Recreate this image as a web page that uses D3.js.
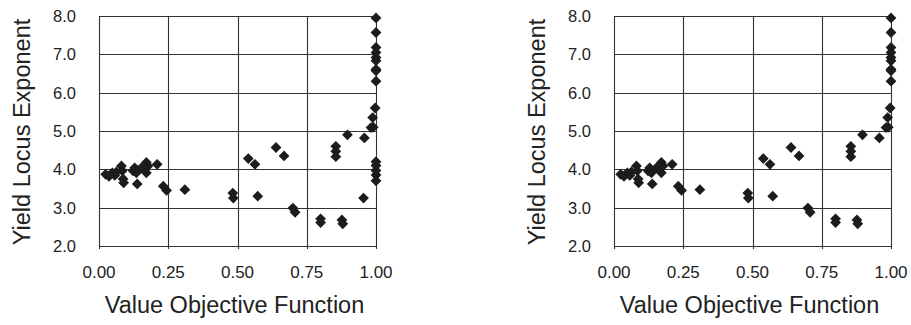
<!DOCTYPE html>
<html>
<head>
<meta charset="utf-8">
<script src="https://cdn.jsdelivr.net/npm/d3@7"></script>
<style>
  html, body { margin: 0; padding: 0; background: #fff; }
  svg { display: block; }
  text { font-family: "Liberation Sans", Arial, sans-serif; fill: #222; }
</style>
</head>
<body>
<svg id="chart" width="911" height="325"></svg>
<script>
// Points shared by both panels
const xCommon = [0.024, 0.036, 0.048, 0.057, 0.063, 0.081, 0.084, 0.087, 0.089, 0.123,
                 0.129, 0.135, 0.138, 0.153, 0.171, 0.171, 0.177, 0.210, 0.232, 0.244,
                 0.310, 0.483, 0.485, 0.539, 0.563, 0.573, 0.639, 0.668, 0.700, 0.708,
                 0.800, 0.800, 0.877, 0.880, 0.855, 0.855, 0.855, 0.897, 0.958, 0.982,
                 0.990, 0.988, 0.997, 1.000, 1.000, 1.000, 1.000, 1.000, 1.000, 1.000,
                 1.000, 1.000];
const yCommon = [3.87, 3.82, 3.91, 3.84, 3.93, 4.09, 3.96, 3.75, 3.65, 3.96,
                 4.04, 3.91, 3.62, 4.04, 4.18, 3.91, 4.09, 4.13, 3.56, 3.45,
                 3.47, 3.38, 3.25, 4.28, 4.13, 3.30, 4.57, 4.35, 2.99, 2.88,
                 2.71, 2.61, 2.68, 2.58, 4.60, 4.47, 4.33, 4.90, 4.82, 5.09,
                 5.10, 5.35, 5.60, 7.95, 7.57, 7.18, 7.05, 6.92, 6.83, 6.61,
                 6.57, 6.30];
// Additional points present only in the first panel
const xExtra = [0.955, 1.000, 1.000, 1.000, 1.000, 1.000];
const yExtra = [3.25, 4.20, 4.10, 3.97, 3.85, 3.70];

const xTicks = [0, 0.25, 0.5, 0.75, 1.0];
const yTicks = [2, 3, 4, 5, 6, 7, 8];
const xTitle = "Value Objective Function";
const yTitle = "Yield Locus Exponent";

const panels = [
  { x: xCommon.concat(xExtra), y: yCommon.concat(yExtra), left: 99 },
  { x: xCommon, y: yCommon, left: 614 }
];

const svg = d3.select("#chart");
const plotTop = 16, plotH = 230, plotW = 277;
const diamond = "M0,-5.4L5.4,0L0,5.4L-5.4,0Z";

panels.forEach(p => {
  const g = svg.append("g").attr("transform", `translate(${p.left},${plotTop})`);
  const x = d3.scaleLinear().domain([0, 1]).range([0, plotW]);
  const y = d3.scaleLinear().domain([2, 8]).range([plotH, 0]);

  // grid
  g.append("g").selectAll("line").data(yTicks).join("line")
    .attr("x1", 0).attr("x2", plotW)
    .attr("y1", d => Math.round(y(d)) + 0.5).attr("y2", d => Math.round(y(d)) + 0.5)
    .attr("stroke", "#333").attr("stroke-width", 1.1);
  g.append("g").selectAll("line").data(xTicks).join("line")
    .attr("y1", 0).attr("y2", plotH + 3)
    .attr("x1", d => Math.round(x(d)) + 0.5).attr("x2", d => Math.round(x(d)) + 0.5)
    .attr("stroke", "#333").attr("stroke-width", 1.1);

  // y tick labels
  g.append("g").selectAll("text").data(yTicks).join("text")
    .attr("x", -23).attr("y", d => y(d)).attr("dy", "0.36em")
    .attr("text-anchor", "end").style("font-size", "16.5px")
    .text(d => d3.format(".1f")(d));

  // x tick labels
  g.append("g").selectAll("text").data(xTicks).join("text")
    .attr("x", d => x(d)).attr("y", plotH + 32)
    .attr("text-anchor", "middle").style("font-size", "17px")
    .text(d => d3.format(".2f")(d));

  // axis titles
  g.append("text").attr("x", plotW / 2 - 3).attr("y", plotH + 67)
    .attr("text-anchor", "middle").style("font-size", "23.5px").text(xTitle);
  g.append("text")
    .attr("transform", `translate(${-69},${plotH / 2 + 1}) rotate(-90)`)
    .attr("text-anchor", "middle").style("font-size", "23.5px").text(yTitle);

  // points
  g.append("g").selectAll("path").data(d3.range(p.x.length)).join("path")
    .attr("d", diamond)
    .attr("transform", i => `translate(${x(p.x[i])},${y(p.y[i])})`)
    .attr("fill", "#1c1c1c");
});
</script>
</body>
</html>
